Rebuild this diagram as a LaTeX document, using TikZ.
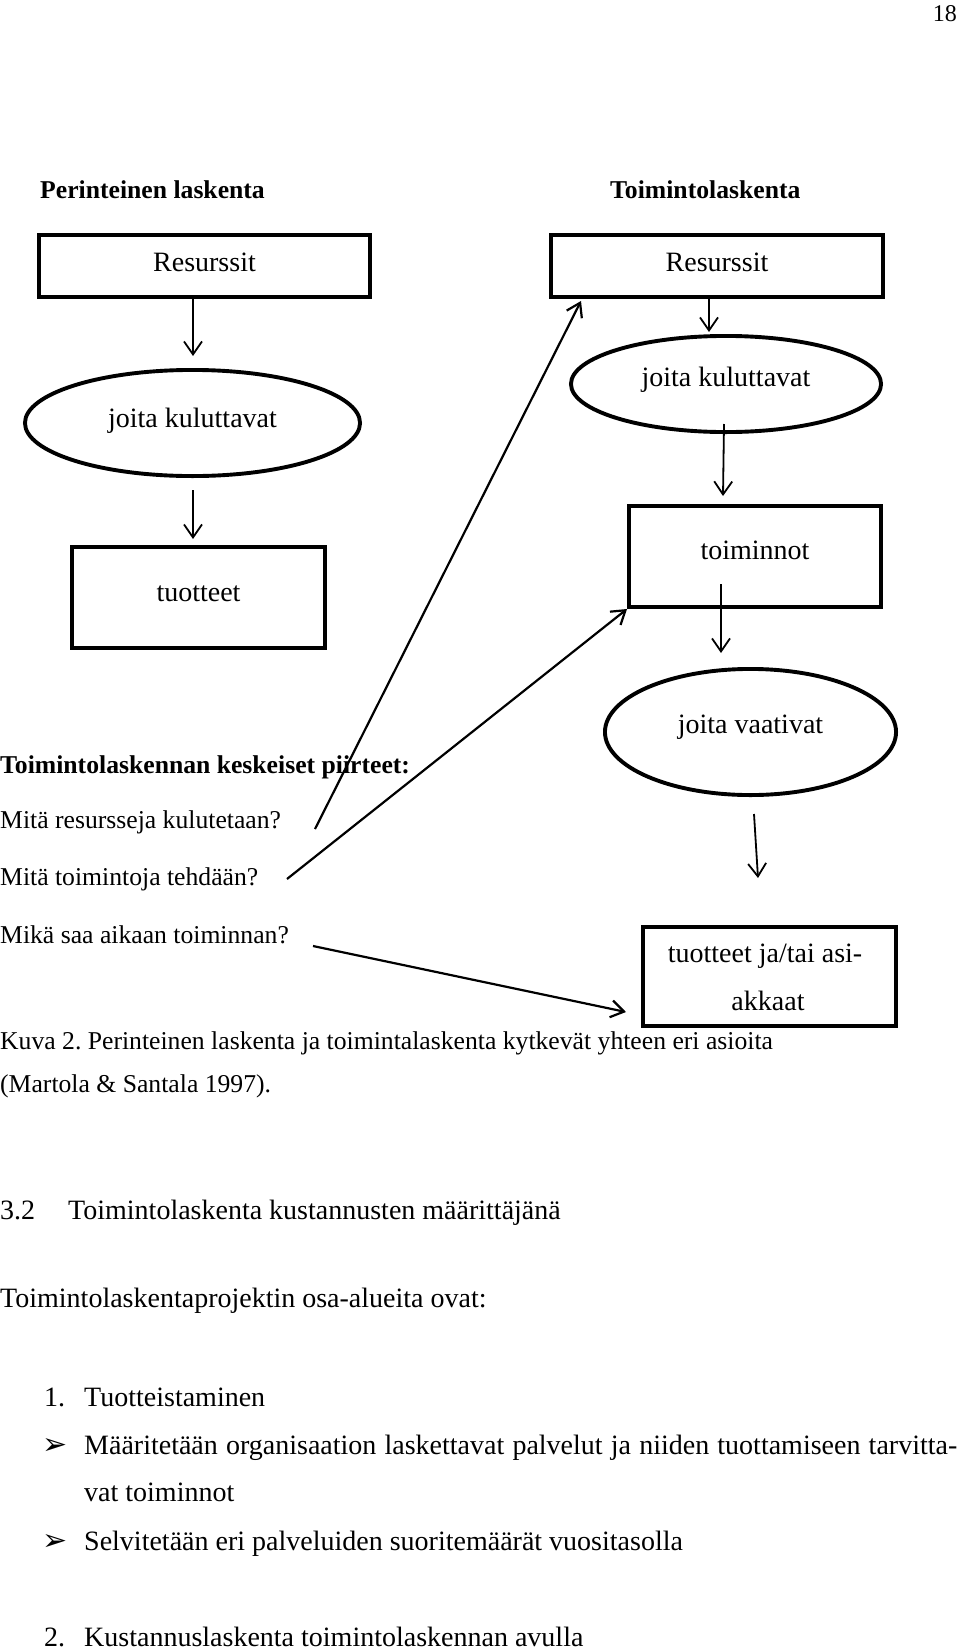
\documentclass[tikz,border=0pt]{standalone}
\usepackage{fontspec}
\setmainfont{Liberation Serif}
\newfontfamily\symfont{DejaVu Sans}
\usetikzlibrary{arrows.meta,shapes.geometric}
\frenchspacing
\begin{document}
\begin{tikzpicture}[x=1pt,y=-1pt,
  boxst/.style={draw, line width=3.9pt, rectangle, inner sep=0pt, font=\fontsize{28}{33}\selectfont, text depth=0pt},
  ellst/.style={draw, line width=3.9pt, ellipse, inner sep=0pt, font=\fontsize{28}{33}\selectfont, text depth=0pt},
  arr/.style={line width=1.8pt, -{Straight Barb[length=13pt,width=18pt,line width=1.8pt]}},
  darr/.style={line width=2.2pt, -{Straight Barb[length=13pt,width=17pt,line width=2.2pt]}},
  big/.style={font=\fontsize{28}{33}\selectfont, anchor=base west, inner sep=0pt},
  small/.style={font=\fontsize{25.67}{30}\selectfont, anchor=base west, inner sep=0pt},
  smallb/.style={font=\fontsize{25.67}{30}\selectfont\bfseries, anchor=base west, inner sep=0pt},
  bul/.style={font=\symfont\fontsize{30}{34}\selectfont, anchor=base west, inner sep=0pt},
]
\useasboundingbox[fill=white] (0,0) rectangle (960,1651);

% page number
\node[font=\fontsize{24}{28}\selectfont, anchor=base east, inner sep=0pt] (pg) at (957,22) {18};

% headings
\node[smallb] (h1) at (40,198) {Perinteinen laskenta};
\node[smallb] (h2) at (610,198) {Toimintolaskenta};

% left column
\node[boxst, minimum width=331.5pt, minimum height=62.1pt, text height=10pt] (lres) at (204.5,266) {Resurssit};
\node[ellst, minimum width=335.1pt, minimum height=106.1pt, text height=8pt] (lell) at (192.5,423) {joita kuluttavat};
\node[boxst, minimum width=253.1pt, minimum height=101.1pt, text height=7pt] (ltuot) at (198.5,597.5) {tuotteet};

% right column
\node[boxst, minimum width=332.1pt, minimum height=62.1pt, text height=10pt] (rres) at (717,266) {Resurssit};
\node[ellst, minimum width=310.1pt, minimum height=96.1pt, text height=5pt] (rell) at (726,384) {joita kuluttavat};
\node[boxst, minimum width=252.1pt, minimum height=101.1pt, text height=5pt] (toim) at (755,556.5) {toiminnot};
\node[ellst, minimum width=291.1pt, minimum height=126.1pt, text height=3pt] (rvaat) at (750.5,732) {joita vaativat};
\node[boxst, minimum width=253.1pt, minimum height=99.1pt] (tja) at (769.5,976.5) {};
\node[big, anchor=base] (tja1) at (765,962) {tuotteet ja/tai asi-};
\node[big, anchor=base] (tja2) at (768,1010) {akkaat};

% left texts
\node[smallb] (kp) at (0,773) {Toimintolaskennan keskeiset piirteet:};
\node[small] (q1) at (0,828) {Mitä resursseja kulutetaan?};
\node[small] (q2) at (0,885) {Mitä toimintoja tehdään?};
\node[small] (q3) at (0,943) {Mikä saa aikaan toiminnan?};
\node[small] (cap1) at (0,1049) {Kuva 2. Perinteinen laskenta ja toimintalaskenta kytkevät yhteen eri asioita};
\node[small] (cap2) at (0,1092) {(Martola \& Santala 1997).};

% vertical arrows
\coordinate (a1e) at (193,356);
\coordinate (a2s) at (193,490);
\coordinate (a2e) at (193,539);
\coordinate (r1e) at (709,332);
\coordinate (r2s) at (724,424);
\coordinate (r2e) at (723,496);
\coordinate (r3s) at (721,584);
\coordinate (r3e) at (721,653);
\coordinate (r4s) at (754,814);
\coordinate (r4e) at (758,878);
\draw[arr] (lres.south -| a1e) -- (a1e);
\draw[arr] (a2s) -- (a2e);
\draw[arr] (rres.south -| r1e) -- (r1e);
\draw[arr] (r2s) -- (r2e);
\draw[arr] (r3s) -- (r3e);
\draw[arr] (r4s) -- (r4e);

% diagonal arrows
\coordinate (d1s) at (315,829);
\coordinate (d1e) at (581,301);
\coordinate (d2s) at (287,879);
\coordinate (d3s) at (313,946);
\coordinate (d3e) at (626,1012);
\draw[darr] (d1s) -- (d1e);
\draw[darr] (d2s) -- (toim.south west);
\draw[darr] (d3s) -- (d3e);

% lower text
\node[big] (sec) at (0,1219) {3.2};
\node[big] (sect) at (68,1219) {Toimintolaskenta kustannusten määrittäjänä};
\node[big] (intro) at (0,1307) {Toimintolaskentaprojektin osa-alueita ovat:};
\node[big] (n1) at (44,1406) {1.};
\node[big] (t1) at (84,1406) {Tuotteistaminen};
\node[bul] (b1) at (42,1454) {➢};
\node[big] (t2) at (84,1454) {\makebox[873pt][s]{Määritetään organisaation laskettavat palvelut ja niiden tuottamiseen tarvitta-}};
\node[big] (t3) at (84,1501) {vat toiminnot};
\node[bul] (b2) at (42,1550) {➢};
\node[big] (t4) at (84,1550) {Selvitetään eri palveluiden suoritemäärät vuositasolla};
\node[big] (n2) at (44,1646) {2.};
\node[big] (t5) at (84,1646) {Kustannuslaskenta toimintolaskennan avulla};
\end{tikzpicture}
\end{document}
